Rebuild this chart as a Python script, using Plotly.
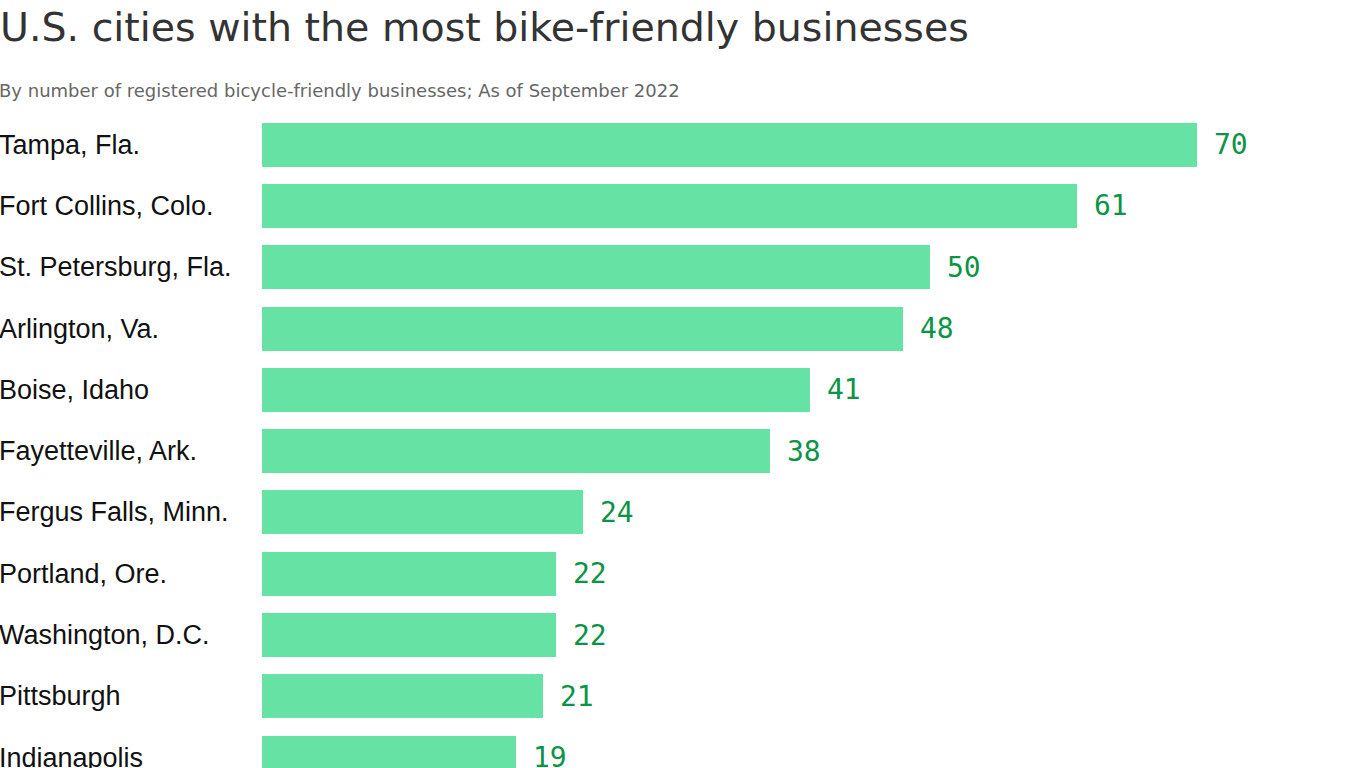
import plotly.graph_objects as go

# ---- data ----
cities = [
    "Tampa, Fla.", "Fort Collins, Colo.", "St. Petersburg, Fla.", "Arlington, Va.",
    "Boise, Idaho", "Fayetteville, Ark.", "Fergus Falls, Minn.", "Portland, Ore.",
    "Washington, D.C.", "Pittsburgh", "Indianapolis",
]
values = [70, 61, 50, 48, 41, 38, 24, 22, 22, 21, 19]

title_text = "U.S. cities with the most bike-friendly businesses"
subtitle_text = "By number of registered bicycle-friendly businesses; As of September 2022"

# ---- styling ----
W, H = 1366, 768
BAR_COLOR = "#66E2A4"
LABEL_GREEN = "#0C9446"
plot_top = 114          # px
pitch = 61.3            # px per category
x_left_px = 262
px_per_unit = 935 / 70

fig = go.Figure(
    go.Bar(
        x=values, y=cities, orientation="h",
        marker=dict(color=BAR_COLOR, line=dict(width=0)),
        width=44 / pitch, hoverinfo="x+y",
    )
)

annotations = []
for c, v in zip(cities, values):
    annotations.append(dict(
        x=0, xref="paper", y=c, yref="y", text=c, showarrow=False,
        xanchor="left", yanchor="middle", borderpad=0, borderwidth=0, xshift=-1,
        font=dict(family="Liberation Sans, Arial, sans-serif", size=27, color="#111111"),
    ))
    annotations.append(dict(
        x=v, xref="x", y=c, yref="y", text=str(v), showarrow=False,
        xanchor="left", yanchor="middle", xshift=17, borderpad=0, borderwidth=0,
        font=dict(family="DejaVu Sans Mono, monospace", size=28, color=LABEL_GREEN),
    ))

plot_h = H - plot_top
annotations.append(dict(
    x=0, xref="paper", y=1 + (plot_top - 90.5) / plot_h, yref="paper",
    text=subtitle_text, showarrow=False, xanchor="left", yanchor="middle",
    borderpad=0, borderwidth=0, xshift=-1,
    font=dict(family="DejaVu Sans, sans-serif", size=18, color="#666666"),
))

x_range_max = (W - x_left_px) / px_per_unit
y_bottom = -0.5 + plot_h / pitch

fig.update_layout(
    width=W, height=H, autosize=False,
    margin=dict(l=0, r=0, t=plot_top, b=0, pad=0),
    paper_bgcolor="white", plot_bgcolor="white",
    showlegend=False,
    title=dict(
        text=title_text, x=0, xref="paper", xanchor="left",
        y=1 - 27 / H, yref="container", yanchor="middle",
        font=dict(family="DejaVu Sans, sans-serif", size=39.5, color="#333333"),
    ),
    xaxis=dict(
        domain=[x_left_px / W, 1], range=[0, x_range_max],
        showgrid=False, zeroline=False, showticklabels=False, showline=False,
        fixedrange=True,
    ),
    yaxis=dict(
        type="category", categoryorder="array", categoryarray=cities,
        range=[y_bottom, -0.5], autorange=False,
        showgrid=False, zeroline=False, showticklabels=False, showline=False,
        fixedrange=True,
    ),
    annotations=annotations,
    bargap=0,
)

fig.write_html(
    "out.html",
    config={"displayModeBar": False},
    post_script="document.body.style.margin='0';",
)
